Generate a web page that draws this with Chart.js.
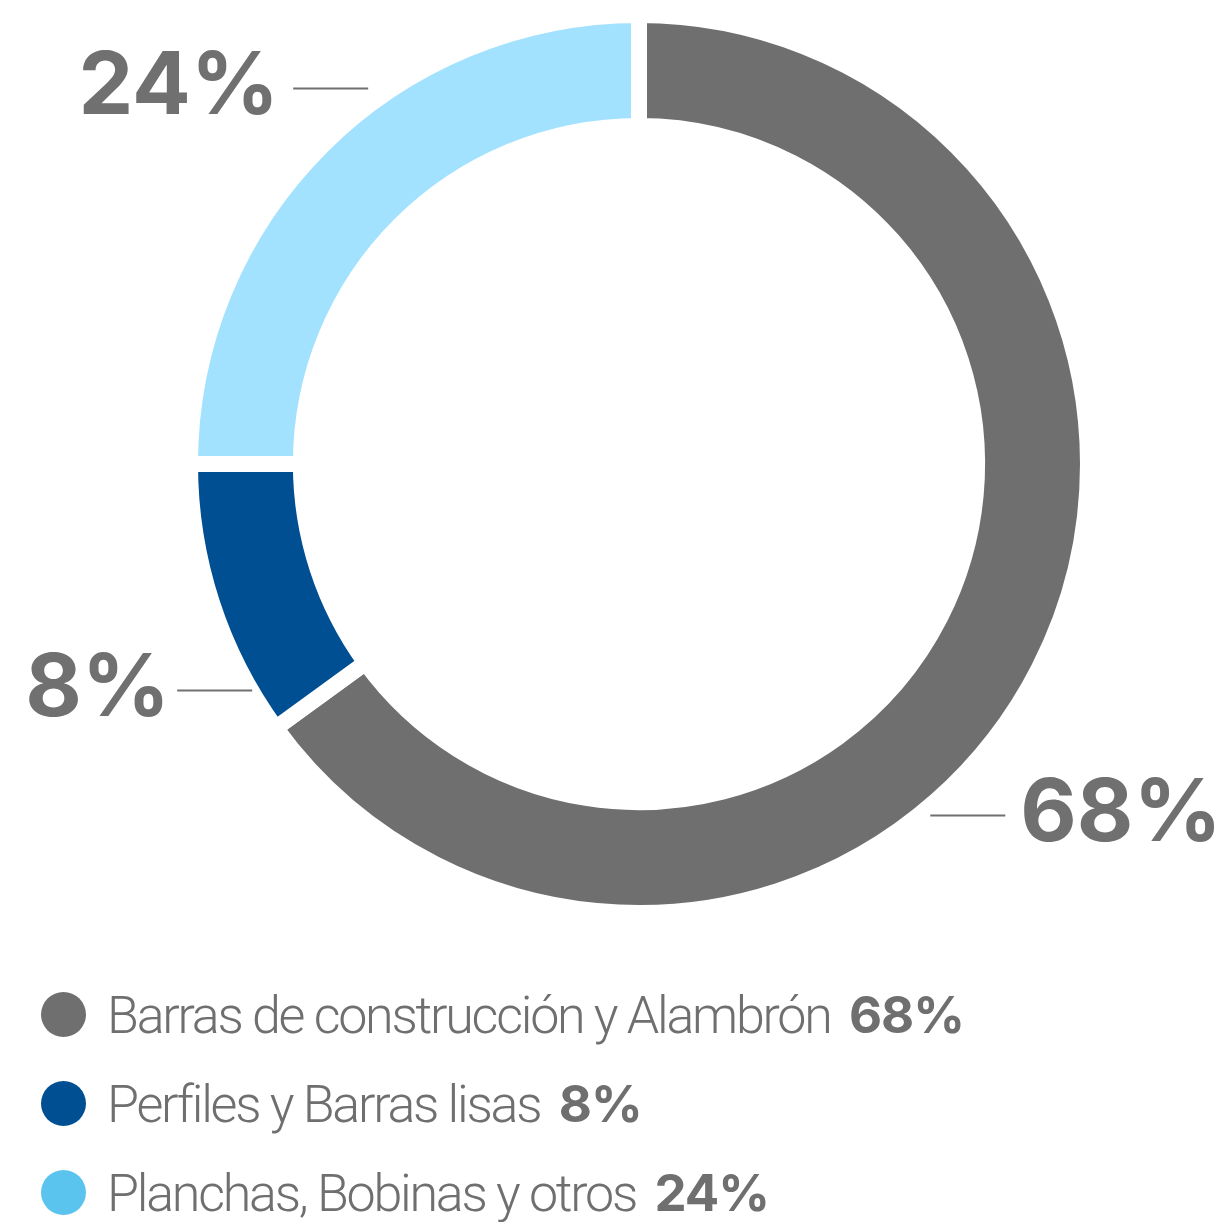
<!DOCTYPE html>
<html>
<head>
<meta charset="utf-8">
<script src="https://cdn.jsdelivr.net/npm/chart.js@4.4.1/dist/chart.umd.min.js"></script>
<style>
  html, body { margin: 0; padding: 0; background: #ffffff; }
  #wrap { position: relative; width: 1222px; height: 1222px; overflow: hidden; }
  #chartBox { position: absolute; left: 0; top: 0; width: 1222px; height: 930px; }
  #legend { position: absolute; left: 41px; top: 970px; }
  .row { display: flex; align-items: center; height: 89px; }
  .dot { width: 45px; height: 45px; border-radius: 50%; margin-right: 21px; flex: none; }
  .txt { font-family: Roboto, sans-serif; font-weight: 300; font-size: 52px; color: #6f6f6f; letter-spacing: -2.25px; white-space: nowrap; }
  .txt b { font-family: Inter, sans-serif; font-weight: 700; font-size: 51px; letter-spacing: -1px; margin-left: 8px; }
</style>
</head>
<body>
<div id="wrap">
  <div id="chartBox"><canvas id="c"></canvas></div>
  <div id="legend"></div>
</div>
<script>
// ---- data ----
const categories = ['Barras de construcción y Alambrón', 'Perfiles y Barras lisas', 'Planchas, Bobinas y otros'];
// percentages printed on the chart and in the legend
const shareLabels = [68, 8, 24];
// sector sizes as drawn in the picture (measured from the ring)
const sectorValues = [65, 10, 25];

// ---- styles ----
const arcColors = ['#6f6f6f', '#004f93', '#a2e2fe'];
const legendColors = ['#6f6f6f', '#004f93', '#5bc4ee'];
const textColor = '#707070';
// callout placement: angle (deg, canvas), extra distance beyond the ring, gap line->text
const calloutAngle = [50.3, 149.7, -125.8];
const calloutGap = [15, 7, 22];
const calloutTextGap = [15, 7, 14];

const GAP = 16; // white separation between sectors

const calloutPlugin = {
  id: 'callouts',
  afterDatasetsDraw(chart) {
    const ctx = chart.ctx;
    const meta = chart.getDatasetMeta(0);
    const arc0 = meta.data[0];
    const cx = arc0.x, cy = arc0.y;
    const visibleOuter = arc0.outerRadius - GAP / 2;
    ctx.save();
    meta.data.forEach((arc, i) => {
      const a = calloutAngle[i] * Math.PI / 180;
      const r = visibleOuter + calloutGap[i];
      const x0 = cx + Math.cos(a) * r;
      const y0 = cy + Math.sin(a) * r;
      const dir = Math.cos(a) >= 0 ? 1 : -1;
      const lineLen = 75;
      const x1 = x0 + dir * lineLen;
      ctx.strokeStyle = textColor;
      ctx.lineWidth = 2;
      ctx.beginPath();
      ctx.moveTo(x0, Math.round(y0) + 0.5);
      ctx.lineTo(x1, Math.round(y0) + 0.5);
      ctx.stroke();
      ctx.fillStyle = textColor;
      ctx.font = '700 87px Inter, sans-serif';
      ctx.textAlign = dir > 0 ? 'left' : 'right';
      ctx.textBaseline = 'alphabetic';
      ctx.fillText(shareLabels[i] + '%', x1 + dir * calloutTextGap[i], y0 + 26);
    });
    ctx.restore();
  }
};

new Chart(document.getElementById('c'), {
  type: 'doughnut',
  data: {
    labels: categories,
    datasets: [{
      data: sectorValues,
      backgroundColor: arcColors,
      borderColor: '#ffffff',
      borderWidth: GAP,
      hoverOffset: 0
    }]
  },
  options: {
    responsive: true,
    maintainAspectRatio: false,
    animation: false,
    cutout: '75.3%',
    layout: { padding: { top: 7, bottom: 9, left: 56, right: 0 } },
    plugins: {
      legend: { display: false },
      tooltip: { enabled: false }
    }
  },
  plugins: [calloutPlugin]
});

// ---- legend ----
const legendEl = document.getElementById('legend');
categories.forEach((name, i) => {
  const row = document.createElement('div');
  row.className = 'row';
  const dot = document.createElement('div');
  dot.className = 'dot';
  dot.style.background = legendColors[i];
  const txt = document.createElement('div');
  txt.className = 'txt';
  txt.appendChild(document.createTextNode(name + ' '));
  const b = document.createElement('b');
  b.textContent = shareLabels[i] + '%';
  txt.appendChild(b);
  row.appendChild(dot);
  row.appendChild(txt);
  legendEl.appendChild(row);
});
</script>
</body>
</html>
